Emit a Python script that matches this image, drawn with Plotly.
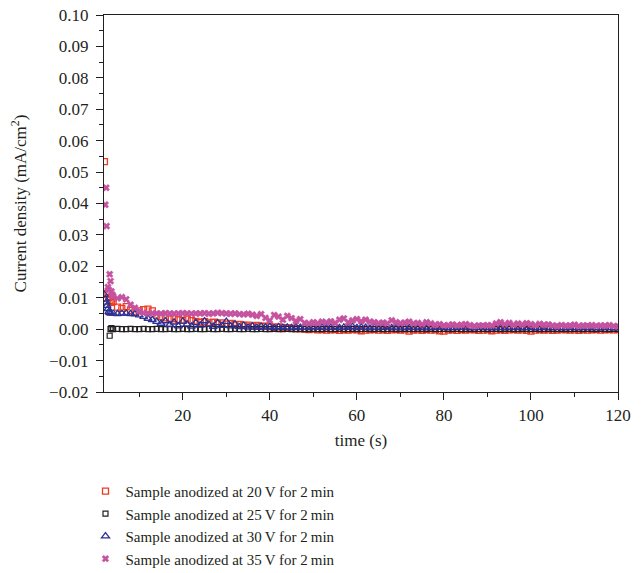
import plotly.graph_objects as go

# ---------------- data ----------------
series_names = [
    "Sample anodized at 20\u2009V for 2\u2009min",
    "Sample anodized at 25\u2009V for 2\u2009min",
    "Sample anodized at 30\u2009V for 2\u2009min",
    "Sample anodized at 35\u2009V for 2\u2009min",
]

# common sampling times (s) for the main part of each curve
time_bulk = list(range(4, 121))

# start-up transients (times in s, current density in mA/cm^2)
t0_20 = [2.0, 2.8, 3.0, 3.3, 3.6]
j0_20 = [0.0533, 0.0115, 0.0100, 0.0092, 0.0085]
t0_25 = [3.2, 3.4, 3.6]
j0_25 = [-0.0021, 0.0000, 0.0003]
t0_30 = [2.0, 2.2, 2.4, 2.6, 2.8, 3.0, 3.2, 3.5]
j0_30 = [0.0110, 0.0095, 0.0085, 0.0075, 0.0065, 0.0055, 0.0052, 0.0050]
t0_35 = [2.2, 2.4, 2.5, 2.8, 3.0, 3.2, 3.4, 3.6, 3.8]
j0_35 = [0.0396, 0.0450, 0.0328, 0.0134, 0.0125, 0.0175, 0.0153, 0.0120, 0.0110]

j20 = [
    0.0088, 0.0070, 0.0066, 0.0072, 0.0060, 0.0055, 0.0058, 0.0062, 0.0064, 0.0058,
    0.0045, 0.0040, 0.0036, 0.0032, 0.0034, 0.0030, 0.0028, 0.0032, 0.0027, 0.0025,
    0.0022, 0.0024, 0.0020, 0.0022, 0.0018, 0.0020, 0.0016, 0.0018, 0.0014, 0.0015,
    0.0012, 0.0013, 0.0010, 0.0012, 0.0009, 0.0010, 0.0008, 0.0006, 0.0007, 0.0005,
    0.0004, 0.0003, 0.0002, 0.0001, 0.0000, -0.0001, 0.0000, -0.0002, -0.0001, -0.0003,
    -0.0002, -0.0001, -0.0004, -0.0002, -0.0003, -0.0001, -0.0002, -0.0005, -0.0003, -0.0002,
    -0.0001, -0.0003, -0.0002, -0.0004, -0.0002, -0.0001, -0.0003, -0.0002, -0.0006, -0.0003,
    -0.0002, -0.0004, -0.0001, -0.0003, -0.0002, -0.0005, -0.0006, -0.0003, -0.0002, -0.0004,
    -0.0002, -0.0003, -0.0001, -0.0002, -0.0004, -0.0003, -0.0002, -0.0005, -0.0003, -0.0002,
    -0.0004, -0.0002, -0.0001, -0.0003, -0.0002, -0.0004, -0.0006, -0.0003, -0.0002, -0.0003,
    -0.0002, -0.0004, -0.0003, -0.0001, -0.0002, -0.0003, -0.0002, -0.0004, -0.0002, -0.0003,
    -0.0002, -0.0001, -0.0003, -0.0002, -0.0001, -0.0002, -0.0001,
]

j25 = [
    0.0000, 0.0001, 0.0000, 0.0000, 0.0001, 0.0000, 0.0000, 0.0001, 0.0000, 0.0000,
    0.0001, 0.0000, 0.0000, 0.0001, 0.0000, 0.0000, 0.0001, 0.0000, 0.0000, 0.0001,
    0.0000, 0.0000, 0.0001, 0.0000, 0.0000, 0.0001, 0.0000, 0.0000, 0.0001, 0.0000,
    0.0000, 0.0001, 0.0000, 0.0000, 0.0001, 0.0000, 0.0000, 0.0001, 0.0000, 0.0000,
    0.0001, 0.0000, 0.0000, 0.0001, 0.0000, 0.0000, 0.0001, 0.0000, 0.0000, 0.0001,
    0.0000, 0.0000, 0.0001, 0.0000, 0.0000, 0.0001, 0.0000, 0.0000, 0.0001, 0.0000,
    0.0000, 0.0001, 0.0000, 0.0000, 0.0001, 0.0000, 0.0000, 0.0001, 0.0000, 0.0000,
    0.0001, 0.0000, 0.0000, 0.0001, 0.0000, 0.0000, 0.0001, 0.0000, 0.0000, 0.0001,
    0.0000, 0.0000, 0.0001, 0.0000, 0.0000, 0.0001, 0.0000, 0.0000, 0.0001, 0.0000,
    0.0000, 0.0001, 0.0000, 0.0000, 0.0001, 0.0000, 0.0000, 0.0001, 0.0000, 0.0000,
    0.0001, 0.0000, 0.0000, 0.0001, 0.0000, 0.0000, 0.0001, 0.0000, 0.0000, 0.0001,
    0.0000, 0.0000, 0.0001, 0.0000, 0.0000, 0.0001, 0.0000,
]

j30 = [
    0.0050, 0.0049, 0.0050, 0.0050, 0.0049, 0.0048, 0.0045, 0.0040, 0.0034, 0.0030,
    0.0024, 0.0018, 0.0026, 0.0014, 0.0022, 0.0010, 0.0025, 0.0016, 0.0009, 0.0021,
    0.0012, 0.0026, 0.0015, 0.0008, 0.0020, 0.0011, 0.0024, 0.0010, 0.0016, 0.0007,
    0.0012, 0.0006, 0.0010, 0.0005, 0.0009, 0.0006, 0.0008, 0.0004, 0.0007, 0.0005,
    0.0006, 0.0004, 0.0007, 0.0005, 0.0006, 0.0004, 0.0008, 0.0005, 0.0006, 0.0004,
    0.0005, 0.0007, 0.0004, 0.0006, 0.0005, 0.0008, 0.0004, 0.0006, 0.0005, 0.0003,
    0.0006, 0.0004, 0.0005, 0.0007, 0.0004, 0.0005, 0.0003, 0.0006, 0.0004, 0.0005,
    0.0004, 0.0006, 0.0003, 0.0005, 0.0004, 0.0006, 0.0005, 0.0003, 0.0004, 0.0005,
    0.0006, 0.0004, 0.0005, 0.0003, 0.0005, 0.0007, 0.0004, 0.0003, 0.0005, 0.0004,
    0.0003, 0.0005, 0.0004, 0.0006, 0.0003, 0.0004, 0.0005, 0.0003, 0.0004, 0.0006,
    0.0004, 0.0003, 0.0005, 0.0004, 0.0003, 0.0005, 0.0004, 0.0003, 0.0004, 0.0005,
    0.0003, 0.0004, 0.0003, 0.0005, 0.0004, 0.0003, 0.0004,
]

j35 = [
    0.0105, 0.0098, 0.0102, 0.0095, 0.0078, 0.0068, 0.0058, 0.0052, 0.0050, 0.0051,
    0.0050, 0.0049, 0.0051, 0.0050, 0.0049, 0.0050, 0.0051, 0.0050, 0.0049, 0.0050,
    0.0050, 0.0051, 0.0049, 0.0050, 0.0052, 0.0051, 0.0050, 0.0049, 0.0050, 0.0048,
    0.0047, 0.0049, 0.0046, 0.0042, 0.0048, 0.0036, 0.0028, 0.0045, 0.0040, 0.0030,
    0.0042, 0.0035, 0.0026, 0.0032, 0.0020, 0.0018, 0.0022, 0.0019, 0.0024, 0.0021,
    0.0025, 0.0020, 0.0030, 0.0034, 0.0022, 0.0028, 0.0032, 0.0025, 0.0030, 0.0024,
    0.0022, 0.0019, 0.0021, 0.0018, 0.0028, 0.0022, 0.0019, 0.0021, 0.0024, 0.0018,
    0.0020, 0.0016, 0.0022, 0.0018, 0.0014, 0.0016, 0.0012, 0.0013, 0.0015, 0.0012,
    0.0014, 0.0016, 0.0013, 0.0010, 0.0012, 0.0011, 0.0013, 0.0012, 0.0018, 0.0022,
    0.0016, 0.0020, 0.0014, 0.0018, 0.0015, 0.0019, 0.0016, 0.0013, 0.0017, 0.0014,
    0.0015, 0.0012, 0.0010, 0.0013, 0.0011, 0.0012, 0.0014, 0.0010, 0.0012, 0.0011,
    0.0013, 0.0010, 0.0012, 0.0011, 0.0013, 0.0010, 0.0009,
]

x_ticks = [20, 40, 60, 80, 100, 120]
x_range = [1.9, 120]
y_range = [-0.02, 0.10]

# ---------------- figure ----------------
FONT = "Liberation Serif, Times New Roman, serif"
INK = "#231F20"

styles = [
    dict(symbol="square-open", size=6, color="#EE3B24", line=dict(width=1.3, color="#EE3B24")),
    dict(symbol="square-open", size=5, color="#231F20", line=dict(width=1.2, color="#231F20")),
    dict(symbol="triangle-up-open", size=7, color="#2E3192", line=dict(width=1.3, color="#2E3192")),
    dict(symbol="x", size=6, color="#C5529F", line=dict(width=0.5, color="#C5529F")),
]

curves = [
    (t0_20 + time_bulk, j0_20 + j20),
    (t0_25 + time_bulk, j0_25 + j25),
    (t0_30 + time_bulk, j0_30 + j30),
    (t0_35 + time_bulk, j0_35 + j35),
]

fig = go.Figure()
for name, (tx, jy), st in zip(series_names, curves, styles):
    fig.add_trace(go.Scatter(x=tx, y=jy, mode="markers", name=name, marker=st))

fig.update_layout(
    width=643, height=573,
    margin=dict(l=104, r=25, t=15, b=181, autoexpand=False),
    paper_bgcolor="white", plot_bgcolor="white",
    font=dict(family=FONT, size=16, color=INK),
    showlegend=True,
    legend=dict(
        x=-0.036, y=-0.220, xanchor="left", yanchor="top",
        font=dict(family=FONT, size=15, color=INK),
        itemwidth=30,
        bgcolor="rgba(0,0,0,0)",
    ),
    xaxis=dict(
        range=x_range, tickvals=x_ticks, showgrid=False, zeroline=False,
        showline=True, linecolor=INK, linewidth=1.3, mirror=True,
        ticks="outside", ticklen=7, tickwidth=1.3, tickcolor=INK,
        minor=dict(dtick=10, tick0=0, ticks="outside", ticklen=4, tickwidth=1.2, tickcolor=INK),
        tickfont=dict(family=FONT, size=17, color=INK),
        title=dict(text="time (s)", font=dict(family=FONT, size=17, color=INK), standoff=10),
    ),
    yaxis=dict(
        range=y_range, dtick=0.01, tick0=0, tickformat=".2f", showgrid=False, zeroline=False,
        showline=True, linecolor=INK, linewidth=1.3, mirror=True,
        ticks="outside", ticklen=7, tickwidth=1.3, tickcolor=INK, ticklabelstandoff=4,
        minor=dict(dtick=0.005, tick0=0, ticks="outside", ticklen=4, tickwidth=1.2, tickcolor=INK),
        tickfont=dict(family=FONT, size=17, color=INK),
        title=dict(text="Current density (mA/cm<sup>2</sup>)",
                   font=dict(family=FONT, size=17, color=INK), standoff=18),
    ),
)

fig.write_html("out.html")
